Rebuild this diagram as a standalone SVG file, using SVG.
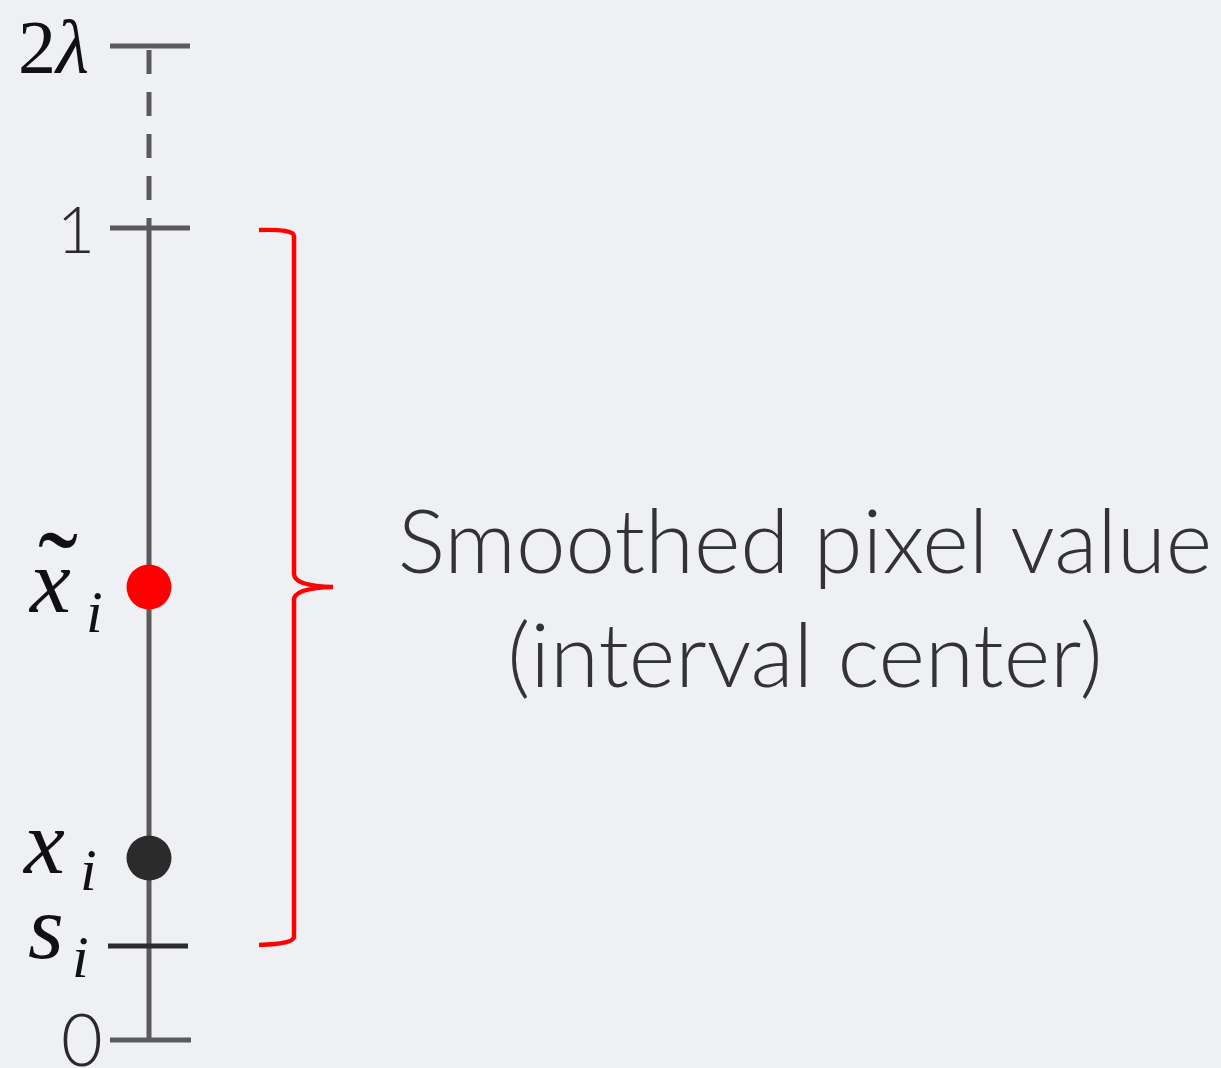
<svg xmlns="http://www.w3.org/2000/svg" width="1221" height="1068" viewBox="0 0 1221 1068">
<style>
.axis{stroke:#5b5b5b;stroke-width:5;fill:none}
.tick{stroke:#5b5b5b;stroke-width:5}
.math{font-family:"Liberation Serif","DejaVu Serif",serif;fill:#111}
.mi{font-style:italic}
.num{font-family:"Lato","Open Sans",sans-serif;font-weight:300;fill:#2a2a2a;text-anchor:middle}
.caption{font-family:"Lato","Open Sans",sans-serif;font-weight:300;font-size:89px;fill:#333;text-anchor:middle}
</style>
<rect width="1221" height="1068" fill="#eff0f3"/>
<g id="connectors">
<line class="axis" x1="149" y1="50" x2="149" y2="205" stroke-dasharray="24 18"/>
<line class="axis" x1="149" y1="218" x2="149" y2="1040"/>
</g>
<g id="tick-2lambda">
<line class="tick" x1="110" y1="46" x2="190" y2="46"/>
<text class="math" x="18" y="73" font-size="76">2<tspan class="mi">λ</tspan></text>
</g>
<g id="tick-1">
<line class="tick" x1="110" y1="228" x2="190" y2="228"/>
<text class="num" x="76" y="253" font-size="66">1</text>
</g>
<g id="tick-si">
<line x1="108" y1="946" x2="188" y2="946" stroke="#2b2b2b" stroke-width="5"/>
<text class="math mi" x="28" y="958" font-size="92">s</text>
<text class="math mi" x="72" y="977" font-size="60">i</text>
</g>
<g id="tick-0">
<line class="tick" x1="110" y1="1040" x2="191" y2="1040"/>
<text class="num" x="82" y="1066" font-size="72">0</text>
</g>
<g id="point-xtilde">
<circle cx="149" cy="587" r="22.5" fill="#ff0000"/>
<text class="math mi" x="30" y="612" font-size="92">x</text>
<text class="math" x="38" y="614" font-size="120">˜</text>
<text class="math mi" x="86" y="632" font-size="60">i</text>
</g>
<g id="point-x">
<circle cx="149" cy="858" r="22.5" fill="#2b2b2b"/>
<text class="math mi" x="24" y="873" font-size="92">x</text>
<text class="math mi" x="80" y="890" font-size="60">i</text>
</g>
<g id="brace">
<path d="M259,230 Q294,229 294,236 L294,574 Q294,586 333,587 Q294,588 294,600 L294,937 Q294,944 259,945" fill="none" stroke="#ff0000" stroke-width="4.5"/>
</g>
<g id="caption">
<text class="caption" x="805" y="573">Smoothed pixel value</text>
<text class="caption" x="805" y="687">(interval center)</text>
</g>
</svg>
